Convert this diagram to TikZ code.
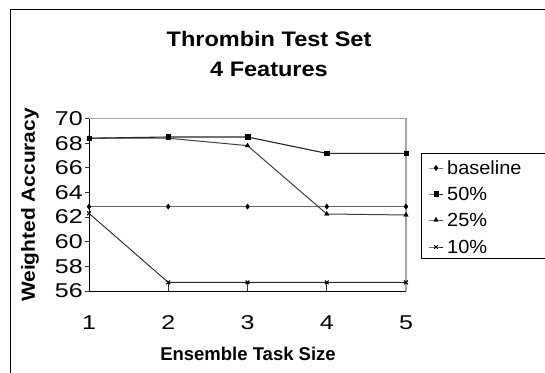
\documentclass[tikz,border=0pt]{standalone}
\usepackage{fontspec}
\setmainfont{Liberation Sans}
\usetikzlibrary{plotmarks}
\usetikzlibrary{positioning}

\begin{document}
\begin{tikzpicture}[
    x=1pt, y=1pt,
    font=\fontsize{18}{20}\selectfont
]
\tikzset{
    frame/.style = {draw=black, line width=1pt},
    gridbox/.style = {draw=black!35, line width=1.6pt},
    axisline/.style = {draw=black, line width=1pt},
    tickline/.style = {draw=black!80, line width=0.8pt},
    serbase/.style = {draw=black!60, line width=1.5pt, mark=diamond*, mark size=2.6pt,
        mark options={fill=black, draw=black, line width=0.4pt}},
    serhalf/.style = {draw=black!85, line width=1.1pt, mark=square*, mark size=2.3pt,
        mark options={fill=black, draw=black, line width=0.4pt}},
    serquart/.style = {draw=black!75, line width=1pt, mark=triangle*, mark size=2.6pt,
        mark options={fill=black, draw=black, line width=0.4pt}},
    serten/.style = {draw=black!85, line width=0.9pt, mark=x, mark size=2.6pt,
        mark options={draw=black, line width=0.9pt}},
    legline/.style = {line width=0.9pt, mark indices={2}},
    ticklab/.style = {inner sep=0pt, xscale=1.25, font=\fontsize{20}{20}\selectfont},
    axislab/.style = {font=\fontsize{18.5}{20}\selectfont\bfseries, inner sep=0pt},
    legtext/.style = {anchor=west, inner sep=0pt, xscale=1.05, font=\fontsize{19}{20}\selectfont}
}
\useasboundingbox (0,0) rectangle (545,372);
\fill[white] (0,0) rectangle (545,372);

% outer chart frame
\draw[frame] (10,-10) -- (10,362) -- (560,362);

% title and axis titles
\node[axislab, align=center, xscale=1.12, font=\fontsize{21}{30}\selectfont\bfseries] (title) at (269,318)
    {Thrombin Test Set\\4 Features};
\node[axislab, rotate=90, xscale=1.1, font=\fontsize{19}{20}\selectfont\bfseries] (ylab) at (30,167) {Weighted Accuracy};
\node[axislab] (xlab) at (248,18) {Ensemble Task Size};

% plot area: category k, value v
\begin{scope}[x=79.25pt, y=12.32pt, shift={(9.75pt,-608.92pt)}]
\coordinate (ll) at (1,56);
\coordinate (ur) at (5,70);
\draw[gridbox] (1,70) -- (5,70) -- (5,56);
\draw[axisline] (1,70) -- (ll) -- (5,56);

% ticks
\draw[tickline] (1,56) ++(-4pt,0) -- ++(4pt,0);
\draw[tickline] (1,58) ++(-4pt,0) -- ++(4pt,0);
\draw[tickline] (1,60) ++(-4pt,0) -- ++(4pt,0);
\draw[tickline] (1,62) ++(-4pt,0) -- ++(4pt,0);
\draw[tickline] (1,64) ++(-4pt,0) -- ++(4pt,0);
\draw[tickline] (1,66) ++(-4pt,0) -- ++(4pt,0);
\draw[tickline] (1,68) ++(-4pt,0) -- ++(4pt,0);
\draw[tickline] (1,70) ++(-4pt,0) -- ++(4pt,0);
\draw[tickline] (2,56) -- ++(0,9pt);
\draw[tickline] (3,56) -- ++(0,9pt);
\draw[tickline] (4,56) -- ++(0,9pt);

% tick labels
\node[ticklab, anchor=east] (y56) at (0.925,56) {56};
\node[ticklab, anchor=east] (y58) at (0.925,58) {58};
\node[ticklab, anchor=east] (y60) at (0.925,60) {60};
\node[ticklab, anchor=east] (y62) at (0.925,62) {62};
\node[ticklab, anchor=east] (y64) at (0.925,64) {64};
\node[ticklab, anchor=east] (y66) at (0.925,66) {66};
\node[ticklab, anchor=east] (y68) at (0.925,68) {68};
\node[ticklab, anchor=east] (y70) at (0.925,70) {70};
\node[ticklab] (x1) at (1,53.45) {1};
\node[ticklab] (x2) at (2,53.45) {2};
\node[ticklab] (x3) at (3,53.45) {3};
\node[ticklab] (x4) at (4,53.45) {4};
\node[ticklab] (x5) at (5,53.45) {5};

% data series
\draw[serbase] plot coordinates {(1,62.85) (2,62.85) (3,62.85) (4,62.85) (5,62.85)};
\draw[serquart] plot coordinates {(1,68.4) (2,68.4) (3,67.8) (4,62.25) (5,62.17)};
\draw[serhalf] plot coordinates {(1,68.4) (2,68.5) (3,68.5) (4,67.17) (5,67.17)};
\draw[serten] plot coordinates {(1,62.3) (2,56.7) (3,56.7) (4,56.7) (5,56.7)};
\end{scope}

% legend
\draw[frame, line width=0.8pt] (421,114) rectangle (560,219);
\draw[serbase, legline] plot coordinates {(429,204) (436,204) (443,204)};
\draw[serhalf, legline] plot coordinates {(429,178) (436,178) (443,178)};
\draw[serquart, legline] plot coordinates {(429,152) (436,152) (443,152)};
\draw[serten, legline] plot coordinates {(429,125) (436,125) (443,125)};
\node[legtext] (lbase) at (447,204) {baseline};
\node[legtext] (lhalf) at (447,178) {50\%};
\node[legtext] (lquart) at (447,152) {25\%};
\node[legtext] (lten) at (447,125) {10\%};
\end{tikzpicture}
\end{document}
